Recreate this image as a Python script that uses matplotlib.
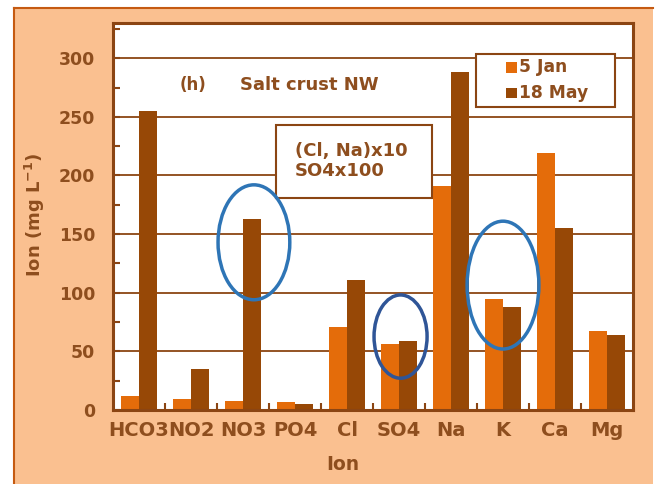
import matplotlib
matplotlib.use("Agg")
import matplotlib.pyplot as plt
from matplotlib.patches import Rectangle, Ellipse
from matplotlib.lines import Line2D

plt.rcParams['font.family'] = ['DejaVu Sans']
plt.rcParams['font.weight'] = 'bold'
plt.rcParams['mathtext.fontset'] = 'dejavusans'
plt.rcParams['mathtext.default'] = 'bf'

# Ion concentrations (mg/L); Cl and Na scaled x10, SO4 scaled x100
ions = ["HCO3", "NO2", "NO3", "PO4", "Cl", "SO4", "Na", "K", "Ca", "Mg"]
jan5 = [12, 9, 8, 7, 71, 56, 191, 95, 219, 67]
may18 = [255, 35, 163, 5, 111, 59, 288, 88, 155, 64]
series_labels = ["5 Jan", "18 May"]
y_ticks = [0, 50, 100, 150, 200, 250, 300]

C_JAN = "#E46C0A"
C_MAY = "#974806"
C_TEXT = "#8E4E1E"
C_LINE = "#8B4513"
C_BG = "#FAC090"
C_FRAME = "#C55A11"

fig = plt.figure(figsize=(6.58, 4.84), dpi=100, facecolor=C_BG)

# white page margins around the peach chart panel, plus panel border
W, H = 658, 484
px = lambda v: v / W
py = lambda v: v / H
for rx, ry, rw, rh in [(0, 0, 14, H), (0, H - 8, W, 8), (653, 0, W - 653, H)]:
    fig.patches.append(Rectangle((px(rx), py(ry)), px(rw), py(rh), transform=fig.transFigure,
                                 facecolor="white", edgecolor="none", zorder=-10))
fig.lines.append(Line2D([px(14), px(14)], [0, py(H - 8)], transform=fig.transFigure,
                        color=C_FRAME, lw=1.5))
fig.lines.append(Line2D([px(14), px(653)], [py(H - 8), py(H - 8)], transform=fig.transFigure,
                        color=C_FRAME, lw=1.5))

ax = fig.add_axes([113 / W, 74 / H, 520 / W, 387 / H])
ax.set_facecolor("white")

x = list(range(len(ions)))
w = 0.34
ax.bar([i - w / 2 for i in x], jan5, width=w, color=C_JAN, zorder=3)
ax.bar([i + w / 2 for i in x], may18, width=w, color=C_MAY, zorder=3)

ax.set_xlim(-0.5, len(ions) - 0.5)
ax.set_ylim(0, 330)

# grid and ticks
ax.set_yticks(y_ticks)
ax.set_yticks(range(25, 330, 50), minor=True)
for v in y_ticks[1:]:
    ax.axhline(v, color=C_LINE, lw=1.3, zorder=1)
ax.tick_params(axis="y", which="both", direction="in", length=5, width=1.5,
               color=C_LINE, labelsize=12.5, labelcolor=C_TEXT, pad=13)
ax.set_xticks([i + 0.5 for i in x[:-1]])
ax.set_xticklabels([])
ax.set_xticks(x, minor=True)
ax.set_xticklabels(ions, minor=True)
ax.tick_params(axis="x", which="major", direction="in", length=5, width=1.5, color=C_LINE)
ax.tick_params(axis="x", which="minor", length=0, labelsize=14, labelcolor=C_TEXT, pad=8)
for lbl in ax.get_yticklabels() + ax.get_xticklabels(minor=True):
    lbl.set_fontweight("bold")

for sp in ax.spines.values():
    sp.set_color(C_LINE)
    sp.set_linewidth(2.2)
    sp.set_zorder(5)

# axis titles
fig.text(35 / W, 1 - 215 / H, "Ion (mg L$^{-1}$)", rotation=90, ha="center", va="center",
         fontsize=13, color=C_TEXT, fontweight="bold")
fig.text(343 / W, 1 - 465 / H, "Ion", ha="center", va="center",
         fontsize=13.5, color=C_TEXT, fontweight="bold")

# panel annotations
ax.text(0.154, 0.84, "(h)", transform=ax.transAxes, ha="center", va="center",
        fontsize=12, color=C_TEXT, fontweight="bold", zorder=6)
ax.text(0.244, 0.84, "Salt crust NW", transform=ax.transAxes, ha="left", va="center",
        fontsize=13, color=C_TEXT, fontweight="bold", zorder=6)

ax.add_patch(Rectangle((0.3135, 0.548), 0.30, 0.189, transform=ax.transAxes,
                       facecolor="white", edgecolor=C_LINE, lw=1.5, zorder=6))
ax.text(0.35, 0.643, "(Cl, Na)x10\nSO4x100", transform=ax.transAxes, ha="left", va="center",
        fontsize=13, color=C_TEXT, fontweight="bold", linespacing=1.15, zorder=7)

# highlighted groups
ax.add_patch(Ellipse((2.21, 143), 1.38, 98, facecolor="none", edgecolor="#2E75B6", lw=2.5, zorder=8))
ax.add_patch(Ellipse((5.03, 62.6), 1.02, 71, facecolor="none", edgecolor="#2F5597", lw=2.5, zorder=8))
ax.add_patch(Ellipse((7.0, 106.5), 1.38, 109, facecolor="none", edgecolor="#2E75B6", lw=2.5, zorder=8))

# legend box
ax.add_patch(Rectangle((0.698, 0.783), 0.267, 0.137, transform=ax.transAxes,
                       facecolor="white", edgecolor=C_LINE, lw=1.5, zorder=9))
leg_rows = [(0.886, C_JAN), (0.819, C_MAY)]
for (yy, col), lab in zip(leg_rows, series_labels):
    ax.add_patch(Rectangle((0.756, yy - 0.014), 0.021, 0.028, transform=ax.transAxes,
                           facecolor=col, edgecolor="none", zorder=10))
    ax.text(0.781, yy, lab, transform=ax.transAxes, ha="left", va="center",
            fontsize=12.3, color=C_TEXT, fontweight="bold", zorder=10)

fig.savefig("out.png", dpi=100, facecolor=C_BG)
